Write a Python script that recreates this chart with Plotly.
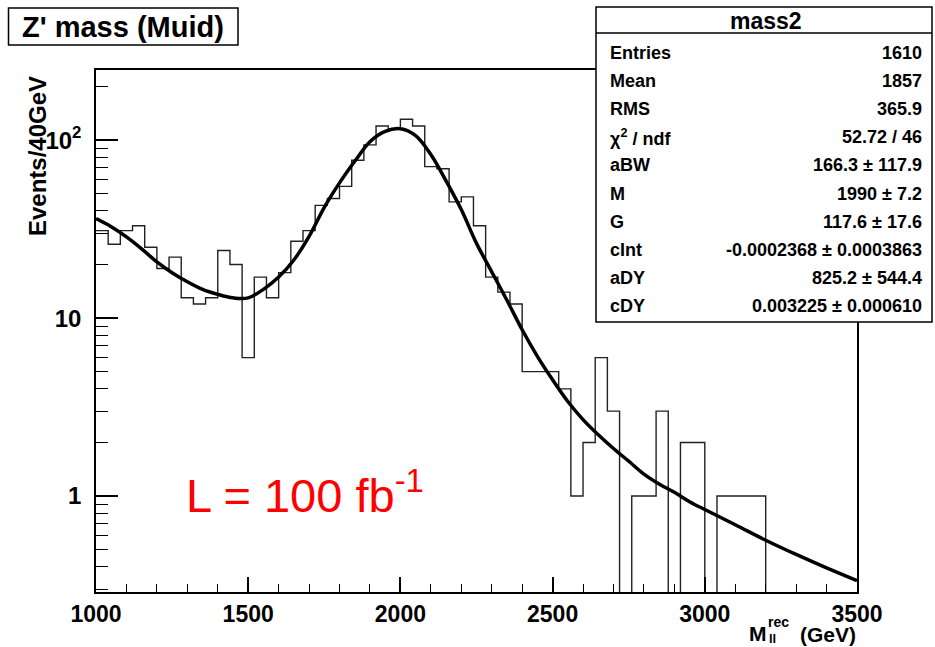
import plotly.graph_objects as go

# ---------------- data ----------------
bin_width = 40
bin_low_edges = [1000 + 40 * i for i in range(63)]
hist_counts = [31, 26, 31, 33, 25, 19, 22, 13, 12, 13,
               24, 20, 6, 17, 13, 18, 27, 31, 43, 47,
               55, 77, 94, 120, 116, 131, 120, 71, 69, 45,
               48, 33, 17, 14, 12, 5, 5, 5, 4, 1,
               2, 6, 3, 0, 1, 1, 3, 0, 2, 2,
               0, 1, 1, 1, 1, 0, 0, 0, 0, 0,
               0, 0, 0]

fit_x = [1000, 1050, 1100, 1150, 1200, 1250, 1300, 1350, 1400, 1450,
         1500, 1550, 1600, 1650, 1700, 1750, 1800, 1850, 1900, 1950,
         2000, 2050, 2100, 2150, 2200, 2250, 2300, 2350, 2400, 2450,
         2500, 2550, 2600, 2650, 2700, 2750, 2800, 2850, 2900, 2950,
         3000, 3100, 3200, 3300, 3400, 3500]
fit_y = [36.2, 32.6, 28.6, 24.5, 20.7, 18.0, 16.0, 14.5, 13.6, 13.0,
         13.0, 14.5, 17.0, 21.2, 28.8, 41.9, 57.5, 76.0, 98.0, 112.0,
         116.0, 106.0, 83.0, 59.0, 40.7, 26.3, 18.2, 12.6, 8.6, 6.1,
         4.5, 3.4, 2.69, 2.21, 1.85, 1.57, 1.33, 1.17, 1.05, 0.93,
         0.84, 0.69, 0.565, 0.47, 0.395, 0.335]

y_tick_vals = [1, 10, 100]
y_tick_text = ["1", "10", "10<sup>2</sup>"]
y_minor_vals = [0.3, 0.4, 0.5, 0.6, 0.7, 0.8, 0.9, 2, 3, 4, 5, 6, 7, 8, 9,
                20, 30, 40, 50, 60, 70, 80, 90, 200]

stat_title = "mass2"
stat_labels = ["Entries", "Mean", "RMS", "χ<sup>2</sup> / ndf", "aBW", "M", "G",
               "cInt", "aDY", "cDY"]
stat_values = ["1610", "1857", "365.9", "52.72 / 46", "166.3 ± 117.9",
               "1990 ± 7.2", "117.6 ± 17.6", "-0.0002368 ± 0.0003863",
               "825.2 ± 544.4", "0.003225 ± 0.000610"]

title_text = "Z' mass (Muid)"
lumi_text = "L = 100 fb<sup>-1</sup>"

# ---------------- geometry helpers (pixels -> paper) ----------------
W, H = 935, 647
L, R, T, B = 96, 857, 70, 592


def px(x):
    return (x - L) / (R - L)


def py(y):
    return (B - y) / (B - T)


FONT = "Liberation Sans, Arial, Helvetica, sans-serif"

# histogram step path
edges = bin_low_edges + [bin_low_edges[-1] + bin_width]
floor = 1e-3
step_y = [c if c > 0 else floor for c in hist_counts]
step_y = step_y + [step_y[-1]]

fig = go.Figure()
fig.add_trace(go.Scatter(x=edges, y=step_y, mode="lines",
                         line=dict(shape="hv", color="#222222", width=1.4),
                         hoverinfo="skip", showlegend=False))
fig.add_trace(go.Scatter(x=fit_x, y=fit_y, mode="lines",
                         line=dict(shape="spline", color="black", width=3.5),
                         hoverinfo="skip", showlegend=False))

fig.update_layout(
    width=W, height=H, autosize=False,
    margin=dict(l=L, r=W - R, t=T, b=H - B, pad=0),
    paper_bgcolor="white", plot_bgcolor="white",
    showlegend=False,
    font=dict(family=FONT, color="black"),
)

fig.update_xaxes(
    range=[1000, 3500], showgrid=False, zeroline=False,
    showline=True, linecolor="black", linewidth=1.5, mirror=True,
    ticks="inside", ticklen=15, tickwidth=1.5, tickcolor="black",
    tick0=1000, dtick=500,
    minor=dict(dtick=100, tick0=1000, ticks="inside", ticklen=8,
               tickwidth=1.2, tickcolor="black", showgrid=False),
    tickfont=dict(family=FONT, size=23, color="black", weight="bold"),
    ticklabelstandoff=1,
)
fig.update_yaxes(
    type="log", range=[-0.539, 2.394], showgrid=False, zeroline=False,
    showline=True, linecolor="black", linewidth=1.5, mirror=True,
    ticks="inside", ticklen=22, tickwidth=1.5, tickcolor="black",
    tickmode="array", tickvals=y_tick_vals, ticktext=y_tick_text,
    minor=dict(tickmode="array", tickvals=y_minor_vals, ticks="inside",
               ticklen=12, tickwidth=1.2, tickcolor="black", showgrid=False),
    tickfont=dict(family=FONT, size=24, color="black", weight="bold"),
    ticklabelstandoff=8,
)

shapes = []
annotations = []

# title box
shapes.append(dict(type="rect", xref="paper", yref="paper",
                   x0=px(8.5), x1=px(238), y0=py(45), y1=py(8),
                   line=dict(color="black", width=1.5), fillcolor="white",
                   layer="above"))
annotations.append(dict(text=title_text, xref="paper", yref="paper",
                        x=px(123), y=py(27), xanchor="center", yanchor="middle",
                        showarrow=False,
                        font=dict(family=FONT, size=29, color="black", weight="bold")))

# stats box
shapes.append(dict(type="rect", xref="paper", yref="paper",
                   x0=px(596), x1=px(932), y0=py(322), y1=py(7),
                   line=dict(color="black", width=1.5), fillcolor="white",
                   layer="above"))
shapes.append(dict(type="line", xref="paper", yref="paper",
                   x0=px(596), x1=px(932), y0=py(33), y1=py(33),
                   line=dict(color="black", width=1.5), layer="above"))
annotations.append(dict(text=stat_title, xref="paper", yref="paper",
                        x=px(766), y=py(21), xanchor="center", yanchor="middle",
                        showarrow=False,
                        font=dict(family=FONT, size=23, color="black", weight="bold")))
for i, (lab, val) in enumerate(zip(stat_labels, stat_values)):
    yc = 53 + 28.1 * i
    annotations.append(dict(text=lab, xref="paper", yref="paper",
                            x=px(608), y=py(yc), xanchor="left", yanchor="middle",
                            showarrow=False,
                            font=dict(family=FONT, size=18, color="black", weight="bold")))
    annotations.append(dict(text=val, xref="paper", yref="paper",
                            x=px(924), y=py(yc), xanchor="right", yanchor="middle",
                            showarrow=False,
                            font=dict(family=FONT, size=18, color="black", weight="bold")))

# luminosity text
annotations.append(dict(text=lumi_text, xref="paper", yref="paper",
                        x=px(184), y=py(492), xanchor="left", yanchor="middle",
                        showarrow=False,
                        font=dict(family=FONT, size=47, color="red")))

# y axis title
annotations.append(dict(text="Events/40GeV", xref="paper", yref="paper",
                        x=px(38), y=py(74), xanchor="center", yanchor="top",
                        textangle=-90, showarrow=False,
                        font=dict(family=FONT, size=24, color="black", weight="bold")))

# x axis title  M_ll^rec (GeV)
annotations.append(dict(text="M", xref="paper", yref="paper",
                        x=px(747), y=py(633), xanchor="left", yanchor="middle",
                        showarrow=False,
                        font=dict(family=FONT, size=21, color="black", weight="bold")))
annotations.append(dict(text="rec", xref="paper", yref="paper",
                        x=px(766), y=py(622), xanchor="left", yanchor="middle",
                        showarrow=False,
                        font=dict(family=FONT, size=14, color="black", weight="bold")))
annotations.append(dict(text="ll", xref="paper", yref="paper",
                        x=px(767), y=py(638), xanchor="left", yanchor="middle",
                        showarrow=False,
                        font=dict(family=FONT, size=13, color="black", weight="bold")))
annotations.append(dict(text="(GeV)", xref="paper", yref="paper",
                        x=px(798), y=py(634), xanchor="left", yanchor="middle",
                        showarrow=False,
                        font=dict(family=FONT, size=21, color="black", weight="bold")))

fig.update_layout(shapes=shapes, annotations=annotations)
fig.write_html("out.html")
